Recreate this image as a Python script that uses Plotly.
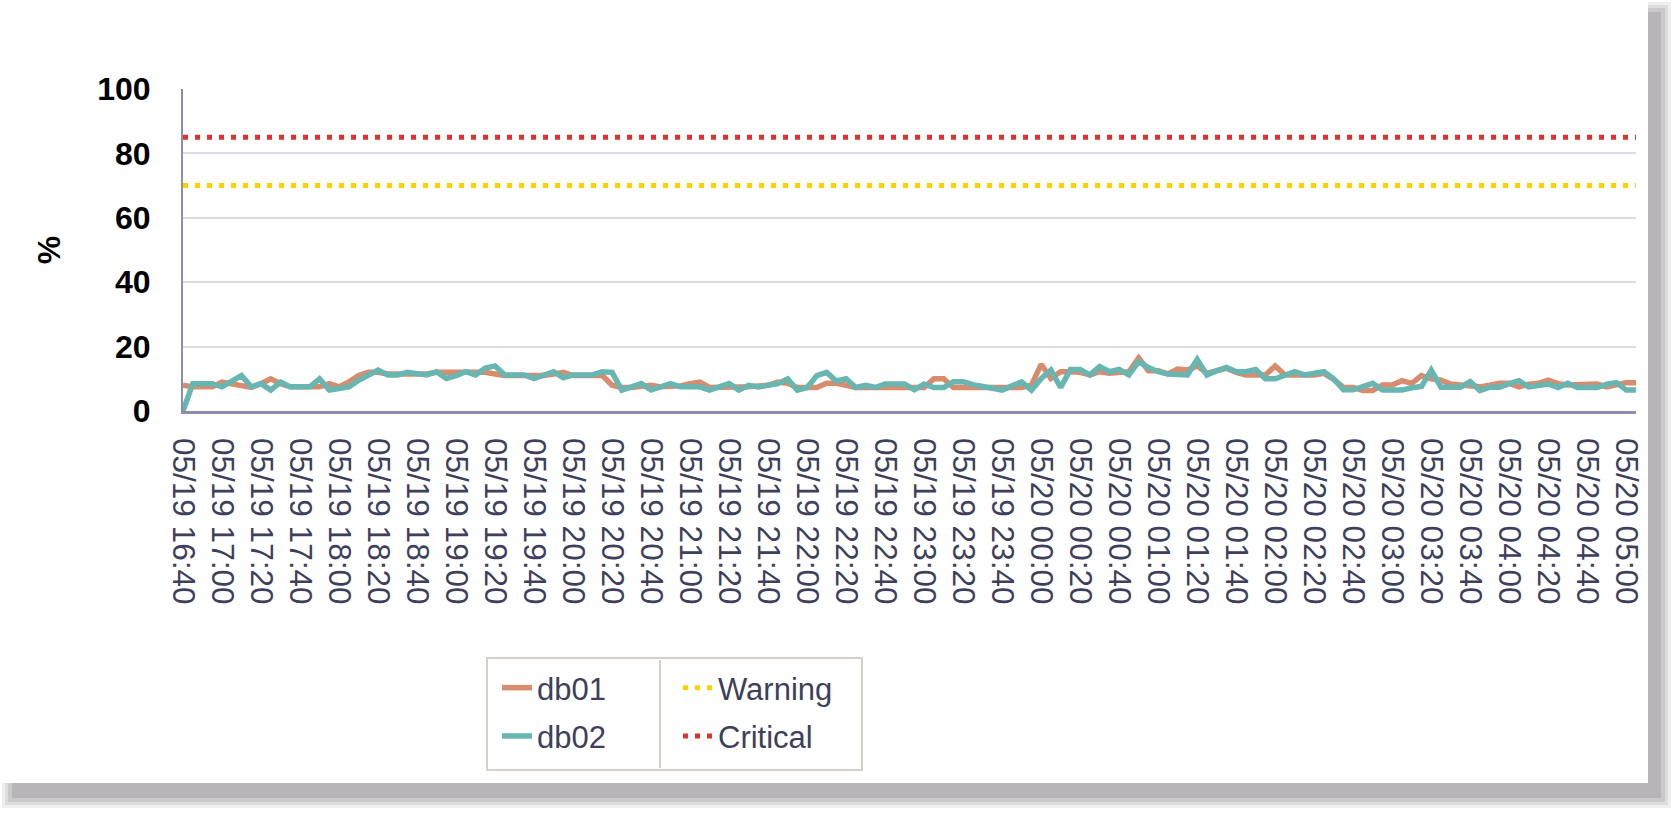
import pandas as pd
import plotly.graph_objects as go

# ---------------- data ----------------
categories = pd.date_range("2024-05-19 16:40", periods=150, freq="5min").strftime("%m/%d %H:%M").tolist()
tick_labels = categories[::4]

db01 = [8, 7.5, 7.5, 7.5, 9, 8.5, 8, 7.3, 8.5, 10,
        8.5, 7.5, 7.5, 7.5, 7.5, 8.5, 7.5, 9, 11, 12,
        12, 11.5, 11.5, 11.5, 11.5, 11.5, 12, 12, 12, 12,
        12, 12, 11.5, 11, 11, 11, 11, 11, 11.5, 12,
        11, 11, 11, 11,
        8, 7.3, 7.3, 7.5, 8, 7.5, 7.5, 7.8, 8.5, 9,
        7.3, 7.3, 7.3, 7.3, 7.5, 7.8, 8, 9, 8.6, 7.3,
        7.3, 7.3, 8.6, 8.6, 8, 7.3, 7.3, 7.3, 7.3, 7.3,
        7.3, 7.3, 7.3, 10, 10, 7.3, 7.3, 7.3, 7.3, 7.3,
        7.3, 7.3, 7.3, 8,
        14.5, 10.1, 12.2, 12.2, 12, 11.2, 12.2, 11.7, 12, 12.2,
        16.5, 12.5, 12.5, 11.5, 13, 12.7, 14, 11.7, 12.5, 13.3,
        12, 11.2, 11.2, 11.2, 14, 11.2, 11.2, 11.2, 11.2, 11.7,
        9.8, 7.3, 7.3, 6.4, 6.4,
        8.1, 8.1, 9.4, 8.6, 11, 10, 9.6, 8.4, 8.1, 8.0,
        7.5, 8.0, 8.6, 8.6, 7.5, 8.3, 8.6, 9.6, 8.5, 8.1,
        8.1, 8.2, 8.4, 7.5, 8.2, 8.8, 8.8]

db02 = [0, 8.5, 8.5, 8.5, 7.5, 9.3, 11, 7.5, 8.5, 6.5,
        9, 7.5, 7.5, 7.5, 10, 6.5, 7, 7.5, 9.5, 11,
        12.7, 11.2, 11.2, 12, 11.8, 11.2, 12.2, 10.1, 11, 12.2,
        11.2, 13.3, 14, 11.2, 11.2, 11.2, 10.1, 11, 12.2, 10.3,
        11.2, 11.2, 11.2, 12.2,
        12, 6.5, 7.5, 8.5, 6.5, 7.5, 8.5, 7.5, 7.5, 7.5,
        6.5, 7.5, 8.5, 6.5, 8, 7.5, 8, 8.5, 10, 6.5,
        7.3, 11, 12, 9.3, 10, 7.3, 8, 7.3, 8.4, 8.4,
        8.4, 6.6, 8.4, 7.3, 7.3, 9.1, 9.1, 8.2, 7.7, 7.3,
        6.5, 7.8, 9, 6.5,
        10, 12.7, 7.3, 12.9, 12.9, 11.2, 13.8, 12.2, 12.9, 11.2,
        15.3, 13.5, 12.2, 11.5, 11.2, 11.2, 16, 11.2, 12.5, 13.5,
        12.2, 12.2, 12.9, 10, 10, 11, 12.2, 11.2, 11.8, 12.2,
        10, 6.6, 6.6, 7.5, 8.6,
        6.5, 6.5, 6.5, 7.2, 7.6, 12.7, 7.4, 7.4, 7.4, 9.1,
        6.3, 7.4, 7.4, 8.5, 9.4, 7.5, 7.8, 8.4, 7.3, 8.6,
        7.3, 7.3, 7.3, 8.3, 8.8, 6.5, 6.5]

warning_level = 70
critical_level = 85

y_ticks = [0, 20, 40, 60, 80, 100]

# ---------------- layout geometry (pixels) ----------------
W, H = 1678, 814
PL, PR, PT, PB = 183, 1636, 89, 411   # plot area edges


def px(x):
    return (x - PL) / (PR - PL)


def py(y):
    return (PB - y) / (PB - PT)


FONT = "Liberation Sans, Arial, sans-serif"
TXT = "#3D3F5C"

fig = go.Figure()
fig.add_trace(go.Scatter(x=categories, y=db01, mode="lines", name="db01", legendgroup="g1",
                         line=dict(color="#D98B6D", width=5.5), legend="legend"))
fig.add_trace(go.Scatter(x=categories, y=db02, mode="lines", name="db02", legendgroup="g2",
                         line=dict(color="#68B6B2", width=5.5), legend="legend"))
fig.add_trace(go.Scatter(x=[categories[0], categories[-1]], y=[warning_level, warning_level],
                         mode="lines", name="Warning", legendgroup="g3",
                         line=dict(color="#FFD100", width=5, dash="5px,7px"), legend="legend2"))
fig.add_trace(go.Scatter(x=[categories[0], categories[-1]], y=[critical_level, critical_level],
                         mode="lines", name="Critical", legendgroup="g4",
                         line=dict(color="#E03131", width=5, dash="5px,7px"), legend="legend2"))

shapes = []
# card shadow (blurred by layering)
for e, col in [(10, "#F0EFF0"), (7, "#DEDDDE"), (4, "#CBC9CB"), (0, "#B7B5B7")]:
    shapes.append(dict(type="rect", xref="paper", yref="paper", layer="below",
                       x0=px(12 - e), x1=px(1661 + e), y0=py(798 + e), y1=py(12 - e),
                       fillcolor=col, line=dict(width=0)))
# white card
shapes.append(dict(type="rect", xref="paper", yref="paper", layer="below",
                   x0=px(-5), x1=px(1648), y0=py(783), y1=py(-5),
                   fillcolor="white", line=dict(width=0)))
# legend frame and divider
shapes.append(dict(type="rect", xref="paper", yref="paper", layer="above",
                   x0=px(487), x1=px(862), y0=py(770), y1=py(658),
                   fillcolor="rgba(0,0,0,0)", line=dict(color="#D5D1CA", width=2)))
shapes.append(dict(type="line", xref="paper", yref="paper", layer="above",
                   x0=px(660), x1=px(660), y0=py(768), y1=py(660),
                   line=dict(color="#D5D1CA", width=2)))

legend_common = dict(font=dict(family=FONT, size=31, color=TXT), bgcolor="rgba(0,0,0,0)",
                     borderwidth=0, orientation="v", xanchor="left", yanchor="top",
                     tracegroupgap=5, itemclick=False, itemdoubleclick=False)

fig.update_layout(
    width=W, height=H,
    margin=dict(l=PL, r=W - PR, t=PT, b=H - PB, autoexpand=False),
    paper_bgcolor="white",
    plot_bgcolor="white",
    font=dict(family=FONT, color=TXT),
    showlegend=True,
    legend=dict(x=px(497), y=py(661), **legend_common),
    legend2=dict(x=px(678), y=py(661), **legend_common),
    shapes=shapes,
    xaxis=dict(
        type="category",
        range=[0, len(categories) - 1],
        tickvals=tick_labels, ticktext=tick_labels,
        tickangle=90,
        tickfont=dict(family=FONT, size=31.5, color=TXT),
        ticks="", ticklabelstandoff=18,
        showgrid=False, zeroline=False,
        showline=True, linecolor="#8F8DAE", linewidth=2.5,
    ),
    yaxis=dict(
        range=[0, 100],
        tickvals=y_ticks,
        tickfont=dict(family=FONT, size=32, color="black", weight="bold"),
        ticks="", ticklabelstandoff=24,
        showgrid=True, gridcolor="#DDDCE6", gridwidth=2,
        zeroline=False,
        showline=True, linecolor="#8F8DAE", linewidth=2,
        title=dict(text="%", font=dict(family=FONT, size=32, color="black", weight="bold"),
                   standoff=27),
    ),
)

fig.write_html("out.html", config={"displayModeBar": False},
               post_script="document.body.style.margin='0';")
